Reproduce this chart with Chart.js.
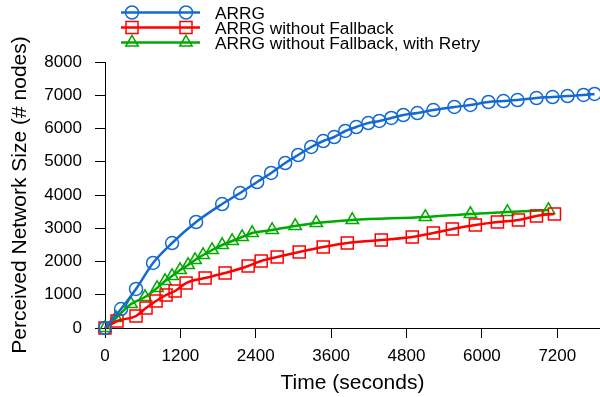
<!DOCTYPE html>
<html>
<head>
<meta charset="utf-8">
<script src="https://cdn.jsdelivr.net/npm/chart.js@4/dist/chart.umd.min.js"></script>
<style>
  html, body { margin: 0; padding: 0; background: #fff; }
  #wrap { width: 600px; height: 397px; }
</style>
</head>
<body>
<div id="wrap"><canvas id="chart" width="600" height="397"></canvas></div>
<script>
// Perceived network size over time for three ARRG variants
const seriesNames = ['ARRG', 'ARRG without Fallback', 'ARRG without Fallback, with Retry'];

const arrgTime = [0, 255, 494, 765, 1068, 1450, 1865, 2151, 2422, 2645, 2869, 3076, 3283, 3474, 3649, 3825, 4000, 4191, 4367, 4558, 4749, 4972, 5227, 5562, 5817, 6104, 6343, 6566, 6869, 7124, 7363, 7618, 7793];
const arrgSize = [0, 571, 1173, 1955, 2556, 3188, 3729, 4060, 4391, 4662, 4962, 5203, 5444, 5624, 5744, 5925, 6045, 6165, 6226, 6316, 6406, 6466, 6556, 6647, 6707, 6797, 6827, 6857, 6917, 6947, 6977, 7008, 7038];

const noFallbackTime = [0, 191, 494, 653, 813, 972, 1116, 1291, 1594, 1912, 2279, 2486, 2741, 3092, 3474, 3857, 4398, 4892, 5227, 5530, 5896, 6247, 6582, 6869, 7155];
const noFallbackSize = [0, 211, 361, 602, 812, 992, 1113, 1353, 1504, 1654, 1865, 2015, 2135, 2286, 2436, 2556, 2647, 2737, 2857, 2977, 3098, 3188, 3248, 3368, 3429];

const retryTime = [0, 175, 414, 637, 829, 956, 1068, 1195, 1323, 1434, 1562, 1705, 1865, 2024, 2183, 2343, 2661, 3028, 3363, 3936, 5100, 5817, 6406, 7060];
const retrySize = [0, 301, 722, 932, 1203, 1414, 1564, 1744, 1895, 2045, 2195, 2346, 2496, 2617, 2737, 2857, 2947, 3068, 3158, 3248, 3338, 3429, 3489, 3549];

const xTickValues = [0, 1200, 2400, 3600, 4800, 6000, 7200];
const yTickValues = [0, 1000, 2000, 3000, 4000, 5000, 6000, 7000, 8000];

const FONT = 'Liberation Sans, Arial, Helvetica, sans-serif';

function toPoints(xs, ys) {
  return xs.map((x, i) => ({ x: x, y: ys[i] }));
}

function makeDataset(label, xs, ys, color, style, radius) {
  return {
    label: label,
    data: toPoints(xs, ys),
    borderColor: color,
    backgroundColor: 'rgba(0,0,0,0)',
    borderWidth: 2.5,
    pointStyle: style,
    pointRadius: radius,
    pointBorderWidth: 1.5,
    pointBorderColor: color,
    pointBackgroundColor: 'rgba(0,0,0,0)',
    cubicInterpolationMode: 'monotone',
    fill: false,
    clip: false
  };
}

// Legend drawn as gnuplot-style sample lines with two markers each
const sampleLegend = {
  id: 'sampleLegend',
  afterDraw(chart) {
    const ctx = chart.ctx;
    const rows = [12.5, 27.5, 42.5];
    ctx.save();
    chart.data.datasets.forEach((ds, i) => {
      const y = rows[i];
      ctx.strokeStyle = ds.borderColor;
      ctx.lineWidth = 2.5;
      ctx.beginPath();
      ctx.moveTo(121, y);
      ctx.lineTo(200, y);
      ctx.stroke();
      ctx.lineWidth = 1.5;
      [132, 186].forEach(mx => {
        const r = ds.pointRadius;
        ctx.beginPath();
        if (ds.pointStyle === 'circle') {
          ctx.arc(mx, y, r, 0, Math.PI * 2);
        } else if (ds.pointStyle === 'rect') {
          const s = r * Math.SQRT1_2;
          ctx.rect(mx - s, y - s, 2 * s, 2 * s);
        } else {
          for (let k = 0; k < 3; k++) {
            const a = k * 2 * Math.PI / 3;
            const px = mx + Math.sin(a) * r, py = y - Math.cos(a) * r;
            if (k === 0) ctx.moveTo(px, py); else ctx.lineTo(px, py);
          }
          ctx.closePath();
        }
        ctx.stroke();
      });
      ctx.fillStyle = '#000';
      ctx.font = '17.3px ' + FONT;
      ctx.textAlign = 'left';
      ctx.textBaseline = 'middle';
      ctx.fillText(ds.label, 215, y + 2);
    });
    ctx.restore();
  }
};

new Chart(document.getElementById('chart'), {
  type: 'line',
  data: {
    datasets: [
      makeDataset(seriesNames[0], arrgTime, arrgSize, 'rgb(20,105,210)', 'circle', 6.5),
      makeDataset(seriesNames[1], noFallbackTime, noFallbackSize, 'rgb(255,0,0)', 'rect', 8.5),
      makeDataset(seriesNames[2], retryTime, retrySize, 'rgb(0,170,0)', 'triangle', 7.2)
    ]
  },
  options: {
    responsive: false,
    animation: false,
    devicePixelRatio: 1,
    layout: { autoPadding: false, padding: { top: 62, right: 0, left: 0, bottom: 0 } },
    plugins: { legend: { display: false }, tooltip: { enabled: false } },
    scales: {
      x: {
        type: 'linear',
        min: 0,
        max: 7880,
        afterBuildTicks: s => { s.ticks = xTickValues.map(v => ({ value: v })); },
        afterFit: s => { s.height = 69; s.paddingLeft = 0; s.paddingRight = 0; },
        ticks: {
          color: '#000',
          font: { family: FONT, size: 17 },
          padding: 8,
          maxRotation: 0,
          autoSkip: false,
          callback: v => String(v)
        },
        grid: { drawOnChartArea: false, drawTicks: true, tickLength: 10, color: '#000', lineWidth: 1 },
        border: { display: true, color: '#000', width: 1 },
        title: {
          display: true,
          text: 'Time (seconds)',
          color: '#000',
          font: { family: FONT, size: 21 },
          padding: { top: 0, bottom: 1 }
        }
      },
      y: {
        type: 'linear',
        min: 0,
        max: 8000,
        afterBuildTicks: s => { s.ticks = yTickValues.map(v => ({ value: v })); },
        afterFit: s => { s.width = 105; s.paddingTop = 0; s.paddingBottom = 0; },
        ticks: {
          color: '#000',
          font: { family: FONT, size: 17 },
          padding: 13,
          autoSkip: false,
          callback: v => String(v)
        },
        grid: { drawOnChartArea: false, drawTicks: true, tickLength: 10, color: '#000', lineWidth: 1 },
        border: { display: true, color: '#000', width: 1 },
        title: {
          display: true,
          text: 'Perceived Network Size (# nodes)',
          color: '#000',
          font: { family: FONT, size: 21 },
          padding: { top: 8, bottom: 0 }
        }
      }
    }
  },
  plugins: [sampleLegend]
});
</script>
</body>
</html>
